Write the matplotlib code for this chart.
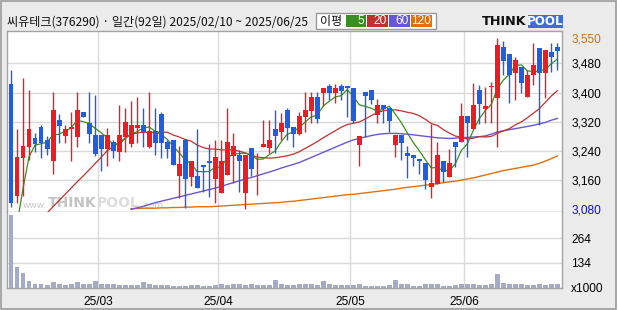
import numpy as np
import pandas as pd
import matplotlib
matplotlib.use("Agg")
import matplotlib.pyplot as plt
from matplotlib.patches import Rectangle

nan = np.nan

# ---------------- data ----------------
opens = [3423, 3117, 3221, 3252, 3276, 3305, 3270, 3211, 3325, 3282,
         3299, 3279, 3347, 3317, 3283, 3283, 3246, 3264, 3238, 3277,
         3258, 3304, 3310, 3252, 3295, 3341, 3264, 3270, 3172, 3270,
         3169, 3172, 3201, 3212, 3164, 3124, 3175, 3226, 3229, 3124,
         3249, 3200, 3252, 3247, 3299, 3293, 3352, 3305, 3287, 3334,
         3350, 3387, 3400, 3418, 3400, 3418, 3418, 3412, 3256, 3401,
         3407, 3339, 3367, 3358, 3256, 3283, 3233, 3229, 3217, 3208,
         3140, 3149, 3212, 3169, 3264, 3264, 3336, 3299, 3406, 3356,
         3416, 3385, 3526, 3505, 3453, 3469, 3387, 3447, 3522, 3453,
         3511, 3524]
highs = [3463, 3299, 3439, 3407, 3288, 3310, 3281, 3402, 3341, 3311,
         3347, 3401, 3347, 3401, 3393, 3283, 3304, 3270, 3367, 3358,
         3376, 3387, 3358, 3401, 3358, 3347, 3270, 3270, 3253, 3270,
         3212, 3300, 3201, 3258, 3270, 3270, 3358, 3288, 3243, 3229,
         3249, 3233, 3325, 3325, 3352, 3343, 3358, 3306, 3347, 3402,
         3402, 3402, 3412, 3423, 3423, 3423, 3418, 3412, 3281, 3401,
         3407, 3381, 3367, 3358, 3283, 3283, 3253, 3229, 3217, 3208,
         3313, 3264, 3212, 3245, 3264, 3372, 3336, 3425, 3420, 3416,
         3429, 3550, 3540, 3505, 3498, 3469, 3462, 3535, 3522, 3516,
         3535, 3535]
lows = [3087, 3098, 3117, 3215, 3238, 3221, 3229, 3176, 3263, 3263,
        3212, 3252, 3334, 3263, 3226, 3186, 3199, 3220, 3211, 3238,
        3252, 3261, 3252, 3247, 3229, 3220, 3220, 3200, 3110, 3083,
        3144, 3139, 3128, 3115, 3098, 3124, 3175, 3151, 3128, 3080,
        3170, 3119, 3252, 3233, 3233, 3270, 3270, 3252, 3283, 3293,
        3316, 3316, 3363, 3380, 3370, 3380, 3334, 3316, 3199, 3279,
        3369, 3316, 3316, 3293, 3224, 3215, 3165, 3199, 3177, 3135,
        3110, 3149, 3156, 3169, 3197, 3264, 3222, 3299, 3314, 3317,
        3316, 3252, 3447, 3370, 3379, 3398, 3387, 3420, 3311, 3384,
        3457, 3463]
closes = [3098, 3223, 3253, 3300, 3258, 3263, 3246, 3352, 3309, 3300,
          3306, 3352, 3334, 3286, 3232, 3246, 3283, 3241, 3283, 3319,
          3310, 3310, 3293, 3295, 3263, 3263, 3246, 3200, 3203, 3164,
          3212, 3139, 3197, 3206, 3223, 3212, 3264, 3253, 3211, 3229,
          3191, 3200, 3258, 3270, 3281, 3316, 3304, 3287, 3336, 3352,
          3387, 3328, 3412, 3400, 3412, 3405, 3411, 3323, 3281, 3390,
          3380, 3367, 3354, 3322, 3283, 3263, 3226, 3221, 3211, 3159,
          3151, 3229, 3181, 3208, 3252, 3336, 3317, 3367, 3369, 3364,
          3418, 3531, 3487, 3447, 3489, 3425, 3449, 3476, 3453, 3516,
          3498, 3515]
volumes = [390, 110, 78, 35, 18, 18, 13, 28, 19, 15,
           19, 28, 19, 19, 35, 19, 19, 19, 15, 12,
           12, 12, 28, 19, 14, 14, 14, 7, 7, 9,
           15, 12, 7, 9, 12, 22, 15, 19, 22, 15,
           19, 15, 15, 15, 41, 19, 15, 15, 19, 22,
           21, 12, 35, 18, 14, 14, 14, 14, 18, 7,
           11, 11, 11, 14, 39, 21, 21, 11, 7, 18,
           18, 18, 7, 11, 14, 18, 18, 18, 14, 14,
           18, 72, 25, 21, 18, 18, 14, 14, 18, 14,
           18, 18]  # x1000

# moving-average values before a full window exists inside the view
ma5_head = [nan, 3040, 3137, 3224, 3256]
ma20_head = [nan, nan, nan, nan, nan, 3053, 3070, 3087, 3104, 3121, 3138,
             3155, 3171, 3188, 3205, 3222, 3240, 3252, 3264]
ma60 = [nan] * 20 + [
    3080, 3084, 3088, 3093, 3098, 3102, 3106, 3110, 3114, 3118,
    3122, 3126, 3130, 3134, 3138, 3143, 3148, 3153, 3158, 3163,
    3167, 3172, 3177, 3182, 3187, 3193, 3198, 3203, 3208, 3215,
    3222, 3229, 3236, 3243, 3250, 3257, 3264, 3270, 3274, 3278,
    3282, 3285, 3287, 3288, 3288, 3287, 3286, 3284, 3282, 3280,
    3278, 3276, 3275, 3274, 3275, 3276, 3277, 3278, 3279, 3281,
    3286, 3292, 3295, 3298, 3301, 3304, 3307, 3310, 3314, 3318,
    3324, 3329]
ma120 = [nan] * 20 + [
    3082, 3082, 3083, 3083, 3083, 3084, 3084, 3085, 3085, 3086,
    3086, 3087, 3087, 3087, 3088, 3089, 3090, 3091, 3092, 3093,
    3094, 3095, 3096, 3097, 3098, 3099, 3101, 3102, 3104, 3106,
    3108, 3110, 3112, 3114, 3116, 3118, 3120, 3121, 3123, 3125,
    3127, 3129, 3131, 3133, 3135, 3138, 3140, 3142, 3144, 3146,
    3148, 3150, 3153, 3155, 3157, 3160, 3163, 3166, 3170, 3174,
    3178, 3182, 3186, 3189, 3192, 3195, 3198, 3201, 3206, 3212,
    3219, 3226]

month_labels = ["25/03", "25/04", "25/05", "25/06"]
month_start = [15, 35, 57, 76]          # index of first trading day of each month
price_ticks = [3550, 3480, 3400, 3320, 3240, 3160, 3080]
price_grid = [3480, 3400, 3320, 3240, 3160]
vol_ticks = [0, 134, 264]
vol_tick_labels = ["x1000", "134", "264"]
title = "씨유테크(376290) · 일간(92일) 2025/02/10 ~ 2025/06/25"
ma_names = ["5", "20", "60", "120"]

# ---------------- derived ----------------
n = len(closes)
x = np.arange(n)
cser = pd.Series(closes, dtype=float)
ma5 = cser.rolling(5).mean().to_numpy()
ma5[:len(ma5_head)] = ma5_head
ma20 = cser.rolling(20).mean().to_numpy()
ma20[:len(ma20_head)] = ma20_head

# ---------------- style ----------------
plt.rcParams["font.family"] = ["Noto Sans CJK KR", "DejaVu Sans"]
RED = "#ee1b22"
BLUE = "#1f5ee2"
C5, C20, C60, C120 = "#3a8f22", "#c3302b", "#6657d8", "#e0700c"
GRID = "#d9d9d9"
SPINE = "#a3a3a3"
W, H = 620, 310

fig = plt.figure(figsize=(6.2, 3.1), dpi=100, facecolor="white")


def fx(px):
    return px / W


def fy(py):
    return 1 - py / H


# outer panel background + border
fig.patches.append(Rectangle((fx(1), fy(308.5)), fx(616) - fx(1), fy(1) - fy(308.5),
                             transform=fig.transFigure, facecolor="#ebebeb",
                             edgecolor="#9a9a9a", lw=1.2, zorder=-10))

L, R = 7.3, 562.3
T_P, B_P, B_V = 31.0, 212.0, 287.7
ax = fig.add_axes([fx(L), fy(B_P), fx(R) - fx(L), fy(T_P) - fy(B_P)])
axv = fig.add_axes([fx(L), fy(B_V), fx(R) - fx(L), fy(B_P) - fy(B_V)])

xlim = (-0.62, n - 0.17)
for a in (ax, axv):
    a.set_facecolor("white")
    a.set_xlim(*xlim)
    for s in a.spines.values():
        s.set_color(SPINE)
        s.set_linewidth(1.0)
    for m in month_start:
        a.axvline(m - 0.5, color=GRID, lw=1.0, zorder=0.2)
ax.spines["bottom"].set_color("#8c8c8c")
axv.spines["top"].set_visible(False)

ax.set_ylim(3072.6, 3568.5)
axv.set_ylim(0, 406)

for g in price_grid:
    ax.axhline(g, color=GRID, lw=1.0, zorder=0.2)
for g in vol_ticks[1:]:
    axv.axhline(g, color=GRID, lw=1.0, zorder=0.2)

# watermark
wm = "#c9c9c9"
ax.text(fx(22.5), fy(205.5), "www.", transform=fig.transFigure, fontsize=6.5,
        color=wm, va="center", ha="left", family="DejaVu Sans", zorder=0.5)
ax.text(fx(47.5), fy(203), "THINK", transform=fig.transFigure, fontsize=10,
        color="#c4c4c4", va="center", ha="left", family="DejaVu Sans",
        weight="bold", zorder=0.5)
ax.text(fx(97), fy(203), "POOL", transform=fig.transFigure, fontsize=10,
        color="#dcdcdc", va="center", ha="left", family="DejaVu Sans",
        weight="bold", zorder=0.5)
ax.text(fx(141), fy(206), ".com", transform=fig.transFigure, fontsize=6.5,
        color=wm, va="center", ha="left", family="DejaVu Sans", zorder=0.5)

# moving averages
ax.plot(x, ma120, color=C120, lw=1.0, zorder=1)
ax.plot(x, ma60, color=C60, lw=1.0, zorder=1)
ax.plot(x, ma20, color=C20, lw=0.9, zorder=1)
ax.plot(x, ma5, color=C5, lw=0.9, zorder=1)

# candles
o = np.array(opens, float)
c = np.array(closes, float)
hi = np.array(highs, float)
lo = np.array(lows, float)
up = c >= o
cols = np.where(up, RED, BLUE)
ax.vlines(x, lo, hi, colors=cols, lw=1.0, zorder=2)
bottoms = np.minimum(o, c)
heights = np.maximum(np.abs(c - o), 2.7)
ax.bar(x, heights, bottom=bottoms, width=0.82, color=cols, linewidth=0, zorder=3)

# volume
axv.bar(x, volumes, width=0.82, color="#a3abc6", linewidth=0, zorder=2)

# ticks
ax.set_xticks([])
ax.yaxis.tick_right()
ax.set_yticks(price_ticks)
ax.set_yticklabels([f"{v:,}" for v in price_ticks])
ax.tick_params(axis="y", length=0, pad=6.5, labelsize=8.6)
for lab in ax.get_yticklabels():
    lab.set_family("Liberation Sans")
    lab.set_color("black")
ylabs = ax.get_yticklabels()
ylabs[0].set_color("#d2700a")
ylabs[-1].set_color("#1010c8")

axv.yaxis.tick_right()
axv.set_yticks(vol_ticks)
axv.set_yticklabels(vol_tick_labels)
axv.tick_params(axis="y", length=0, pad=6.5, labelsize=8.6)
for lab in axv.get_yticklabels():
    lab.set_family("Liberation Sans")

axv.set_xticks([m - 0.5 for m in month_start])
axv.set_xticklabels(month_labels)
axv.tick_params(axis="x", length=0, pad=6.0, labelsize=8.6)
for lab in axv.get_xticklabels():
    lab.set_family("Liberation Sans")

# header
fig.text(fx(6.5), fy(22), title, fontsize=8.7, va="center", ha="left", color="#111111")

# MA legend box
fig.patches.append(Rectangle((fx(315.7), fy(29.3)), fx(435.7) - fx(315.7), fy(12.7) - fy(29.3),
                             transform=fig.transFigure, facecolor="white",
                             edgecolor="#9a9a9a", lw=1.0))
fig.text(fx(319.5), fy(21), "이평", fontsize=8.7, va="center", ha="left", color="#111111")
boxes = [(346.0, 365.7), (366.7, 387.7), (388.7, 409.7), (410.7, 432.0)]
for (x0, x1), col, name in zip(boxes, [C5, C20, C60, C120], ma_names):
    fig.patches.append(Rectangle((fx(x0), fy(27.0)), fx(x1) - fx(x0), fy(14.7) - fy(27.0),
                                 transform=fig.transFigure, facecolor=col,
                                 edgecolor="none"))
    fig.text(fx(x1 - 1.2), fy(21), name, fontsize=8.6, va="center", ha="right",
             color="white", family="Liberation Sans")

# THINKPOOL logo
fig.text(fx(481.5), fy(21.5), "THINK", fontsize=9.2, va="center", ha="left",
         color="#111111", weight="heavy", family="DejaVu Sans")
fig.patches.append(Rectangle((fx(527.7), fy(28.0)), fx(563.3) - fx(527.7), fy(14.7) - fy(28.0),
                             transform=fig.transFigure, facecolor="#3b6fd8",
                             edgecolor="none"))
fig.text(fx(545.5), fy(21.5), "POOL", fontsize=8.6, va="center", ha="center",
         color="white", weight="heavy", family="DejaVu Sans")

fig.savefig("out.png", dpi=100, facecolor="white")
